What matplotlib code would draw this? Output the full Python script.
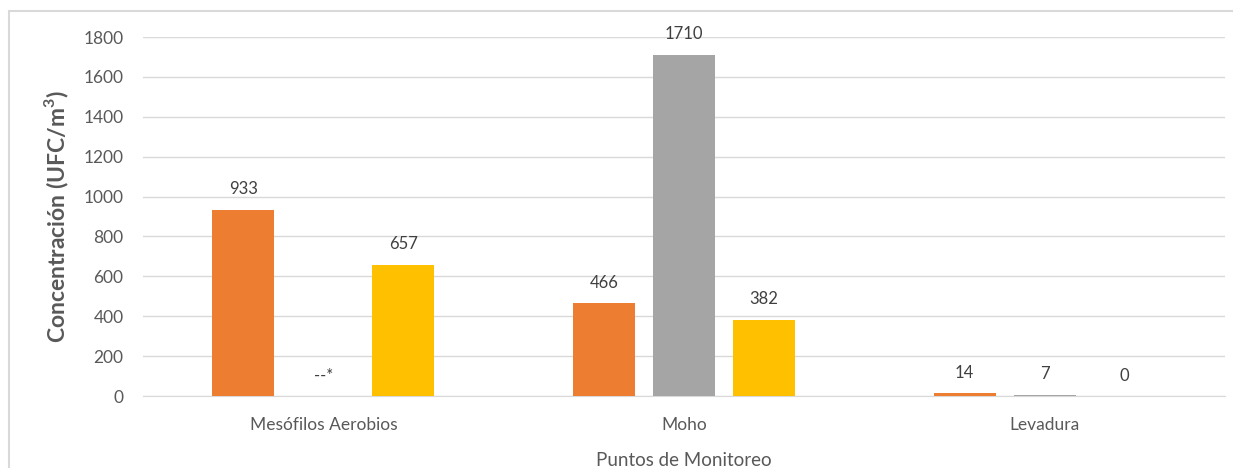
import numpy as np
import matplotlib.pyplot as plt
from matplotlib.patches import Rectangle

# data
categories = ['Mesófilos Aerobios', 'Moho', 'Levadura']
serie_1 = [933, 466, 14]
serie_2 = [np.nan, 1710, 7]
serie_3 = [657, 382, 0]
labels_2 = ['--*', '1710', '7']
colors = ['#ED7D31', '#A5A5A5', '#FFC000']

plt.rcParams['font.family'] = ['Lato', 'DejaVu Sans']

fig = plt.figure(figsize=(12.33, 4.68), dpi=100)
ax = fig.add_axes([0.116, 0.1538, 0.8775, 0.7671])

x = np.arange(len(categories))
w = 0.172
step = 0.222
series = [serie_1, serie_2, serie_3]
texts = [[str(v) for v in serie_1], labels_2, [str(v) for v in serie_3]]

for i, (vals, c, lab) in enumerate(zip(series, colors, texts)):
    pos = x + (i - 1) * step
    ax.bar(pos, vals, width=w, color=c, zorder=3)
    for p, v, t in zip(pos, vals, lab):
        h = 0 if np.isnan(v) else v
        ax.annotate(t, (p, h), xytext=(0, 9), textcoords='offset points',
                    ha='center', va='bottom', fontsize=12, color='#404040')

ax.set_xlim(-0.5, 2.5)
ax.set_ylim(0, 1800)
ax.set_yticks(np.arange(0, 1801, 200))
ax.set_xticks(x)
ax.set_xticklabels(categories)
ax.grid(axis='y', color='#D9D9D9', linewidth=1, zorder=0)
for s in ['top', 'right', 'left']:
    ax.spines[s].set_visible(False)
ax.spines['bottom'].set_color('#D9D9D9')
ax.tick_params(axis='both', length=0, labelsize=12.5, labelcolor='#595959')
ax.tick_params(axis='y', pad=14)
ax.tick_params(axis='x', pad=15)

ax.set_ylabel('Concentración (UFC/m$^\\mathregular{3}$)', fontsize=16.5,
              fontweight='bold', color='#595959', labelpad=9)
ax.set_xlabel('Puntos de Monitoreo', fontsize=13.5, color='#595959', labelpad=14)

# outer chart frame
fig.patches.append(Rectangle((9 / 1233, -0.05), 1.1, 1 - 11 / 468 + 0.05,
                             transform=fig.transFigure, fill=False,
                             edgecolor='#D9D9D9', linewidth=1.5, clip_on=False))

fig.savefig('out.png', dpi=100)
